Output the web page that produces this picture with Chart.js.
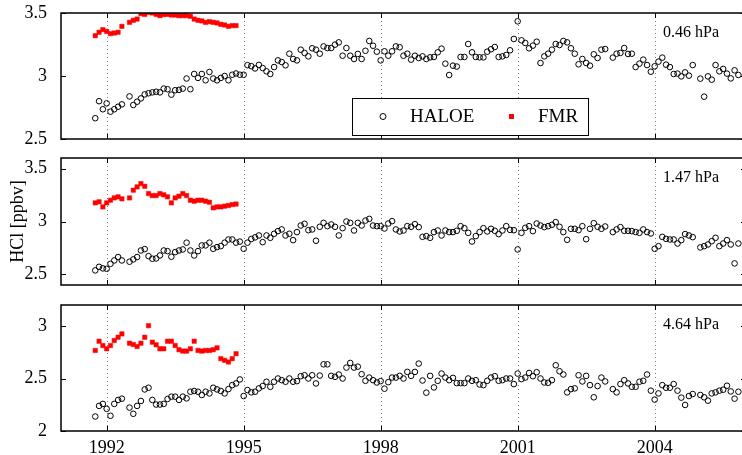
<!DOCTYPE html>
<html>
<head>
<meta charset="utf-8">
<script src="https://cdn.jsdelivr.net/npm/chart.js@4.4.0/dist/chart.umd.min.js"></script>
<style>
  html, body { margin: 0; padding: 0; background: #fff; overflow: hidden; }
  body { width: 742px; height: 455px; position: relative; }
  .panel { position: absolute; left: 0; width: 760px; }
</style>
</head>
<body>
<div class="panel" style="top:0;height:148px"><canvas id="p1"></canvas></div>
<div class="panel" style="top:148px;height:147px"><canvas id="p2"></canvas></div>
<div class="panel" style="top:295px;height:160px"><canvas id="p3"></canvas></div>
<script>
// monthly samples, first one is Oct 1991
const startYear = 1991.75
const yearTicks = [1992, 1995, 1998, 2001, 2004]

const haloe046 = [
  2.665, 2.80, 2.736, 2.783, 2.717, 2.736, 2.756, 2.775, null,
  2.838, 2.77, 2.796, 2.822, 2.854, 2.863, 2.87, 2.875, 2.87, 2.90, 2.895, 2.852, 2.887, 2.89, 2.90,
  2.98, 2.895, 3.016, 2.985, 3.016, 2.966, 3.032, 2.98, 2.966, 2.985, 3.00, 2.966, 3.01, 3.02, 3.01, 3.01,
  3.086, 3.078, 3.06, 3.088, 3.063, 3.037, 3.016, 3.071, 3.124, 3.111, 3.085, 3.177, 3.135, 3.124, 3.209,
  3.183, 3.156, 3.22, 3.209, 3.177, 3.235, 3.222, 3.222, 3.249, 3.267, 3.161, 3.222, 3.161, 3.135, 3.175,
  3.135, 3.20, 3.278, 3.24, 3.193, 3.124, 3.196, 3.161, 3.196, 3.235, 3.228, 3.161, 3.177, 3.13, 3.161,
  3.143, 3.156, 3.135, 3.148, 3.151, 3.188, 3.217, 3.098, 3.008, 3.082, 3.075, 3.151, 3.151, 3.254, 3.188,
  3.151, 3.148, 3.148, 3.193, 3.212, 3.23, 3.151, 3.156, 3.167, 3.204, 3.294, 3.434, 3.283, 3.262, 3.22,
  3.241, 3.272, 3.103, 3.156, 3.177, 3.209, 3.254, 3.246, 3.278, 3.267, 3.22, 3.177, 3.093, 3.135, 3.103,
  3.082, 3.172, 3.143, 3.209, 3.214, null, 3.146, 3.177, 3.183, 3.222, 3.175, 3.177, 3.071, 3.098, 3.13,
  3.087, 3.034, 3.077, 3.114, 3.146, 3.09, 3.071, 3.016, 3.019, 2.997, 3.029, 3.003, 3.087, null, 2.979,
  2.836, 2.997, 2.971, 3.087, 3.037, 3.056, 3.019, 2.981, 3.045, 3.008
]
const fmr046 = [
  3.32, 3.347, 3.368, 3.354, 3.336, 3.341, 3.347, 3.394, null,
  3.426, 3.442, 3.452, 3.495, 3.489, 3.505, 3.5, 3.489, 3.479, 3.487, 3.489, 3.484, 3.484, 3.479, 3.479,
  3.479, 3.474, 3.452, 3.442, 3.437, 3.426, 3.431, 3.426, 3.421, 3.41, 3.405, 3.394, 3.40, 3.40
]

const haloe147 = [
  2.538, 2.572, 2.557, 2.553, 2.60, 2.632, 2.664, 2.632, null,
  2.62, 2.642, 2.664, 2.726, 2.739, 2.673, 2.648, 2.651, 2.679, 2.726, 2.72, 2.667, 2.711, 2.726, 2.736,
  2.80, 2.726, 2.679, 2.72, 2.774, 2.774, 2.80, 2.742, 2.758, 2.767, 2.80, 2.83, 2.83, 2.80, 2.81, 2.742,
  2.80, 2.835, 2.85, 2.868, 2.805, 2.868, 2.846, 2.884, 2.909, 2.925, 2.868, 2.884, 2.824, 2.90, 2.962,
  2.978, 2.918, 2.925, 2.818, 2.95, 2.987, 2.956, 2.972, 2.95, 2.868, 2.937, 3.0, 2.987, 2.915, 2.987,
  2.962, 3.009, 3.025, 2.962, 2.956, 2.956, 2.934, 2.981, 3.003, 2.925, 2.906, 2.915, 2.956, 2.95, 2.975,
  2.947, 2.855, 2.862, 2.846, 2.90, 2.915, 2.868, 2.915, 2.90, 2.90, 2.912, 2.956, 2.937, 2.893, 2.811,
  2.862, 2.90, 2.937, 2.906, 2.931, 2.912, 2.881, 2.915, 2.956, 2.921, 2.918, 2.736, 2.893, 2.94, 2.956,
  2.909, 2.981, 2.962, 2.947, 2.956, 2.969, 2.994, 2.95, 2.90, 2.827, 2.931, 2.931, 2.918, 2.956, 2.833,
  2.931, 2.984, 2.95, 2.931, 2.953, null, 2.90, 2.925, 2.947, 2.912, 2.912, 2.909, 2.90, 2.893, 2.925,
  2.90, 2.887, 2.742, 2.767, 2.855, 2.836, 2.83, 2.83, 2.792, 2.824, 2.881, 2.868, 2.852, null, 2.755,
  2.767, 2.783, 2.814, 2.846, 2.767, 2.792, 2.824, 2.783, 2.604, 2.792
]
const fmr147 = [
  3.176, 3.186, 3.138, 3.176, 3.201, 3.223, 3.233, 3.214, null,
  3.223, 3.296, 3.327, 3.358, 3.333, 3.264, 3.245, 3.245, 3.264, 3.252, 3.233, 3.176, 3.223, 3.239, 3.264,
  3.245, 3.201, 3.192, 3.201, 3.201, 3.192, 3.182, 3.129, 3.138, 3.138, 3.145, 3.151, 3.16, 3.165
]

const haloe464 = [
  2.138, 2.239, 2.258, 2.211, 2.145, 2.258, 2.296, 2.308, null,
  2.223, 2.164, 2.239, 2.286, 2.396, 2.412, 2.296, 2.252, 2.252, 2.258, 2.305, 2.327, 2.327, 2.296, 2.327,
  2.311, 2.374, 2.381, 2.374, 2.343, 2.374, 2.358, 2.412, 2.396, 2.381, 2.358, 2.399, 2.437, 2.453, 2.491,
  2.333, 2.39, 2.368, 2.374, 2.406, 2.428, 2.469, 2.421, 2.469, 2.50, 2.484, 2.469, 2.50, 2.469, 2.475,
  2.522, 2.531, 2.50, 2.531, 2.453, 2.528, 2.635, 2.635, 2.525, 2.516, 2.538, 2.50, 2.604, 2.648, 2.604,
  2.613, 2.541, 2.478, 2.509, 2.484, 2.462, 2.475, 2.403, 2.465, 2.509, 2.509, 2.525, 2.50, 2.563, 2.525,
  2.563, 2.642, 2.481, 2.365, 2.525, 2.415, 2.478, 2.547, 2.509, 2.484, 2.506, 2.456, 2.456, 2.456, 2.50,
  2.478, 2.484, 2.443, 2.437, 2.478, 2.509, 2.522, 2.478, 2.484, 2.50, 2.50, 2.447, 2.547, 2.494, 2.509,
  2.553, 2.522, 2.56, 2.50, 2.462, 2.459, 2.484, 2.626, 2.569, 2.538, 2.368, 2.399, 2.406, 2.531, 2.472,
  2.525, 2.437, 2.321, 2.428, 2.509, 2.472, null, 2.399, 2.368, 2.447, 2.484, 2.453, 2.421, 2.421, 2.469,
  2.478, 2.538, 2.384, 2.299, 2.358, 2.437, 2.412, 2.412, 2.447, 2.384, 2.318, 2.248, 2.333, 2.352, null,
  2.343, 2.321, 2.289, 2.358, 2.368, 2.384, 2.393, 2.431, 2.377, 2.308, 2.374
]
const fmr464 = [
  2.767, 2.855, 2.814, 2.783, 2.814, 2.862, 2.893, 2.925, null,
  2.836, 2.824, 2.805, 2.836, 2.893, 3.003, 2.846, 2.821, 2.783, 2.783, 2.855, 2.855, 2.814, 2.774, 2.761,
  2.761, 2.783, 2.855, 2.767, 2.761, 2.767, 2.767, 2.774, 2.792, 2.689, 2.673, 2.657, 2.689, 2.736
]

Chart.defaults.font.family = "'Liberation Serif', 'Times New Roman', serif"
Chart.defaults.color = '#000'
Chart.defaults.animation = false

function toPoints(vals) {
  return vals
    .map((v, i) => ({ x: startYear + i / 12, y: v }))
    .filter(p => p.y !== null)
}

// dotted year lines, box, inward ticks, pressure label and optional legend
const frame = {
  id: 'frame',
  beforeDatasetsDraw(chart) {
    const { ctx, chartArea: a, scales: { x } } = chart
    ctx.save()
    ctx.strokeStyle = '#7a7a7a'
    ctx.lineWidth = 1
    ctx.setLineDash([1, 3])
    x.ticks.forEach(t => {
      const px = Math.round(x.getPixelForValue(t.value)) + 0.5
      ctx.beginPath()
      ctx.moveTo(px, a.top)
      ctx.lineTo(px, a.bottom)
      ctx.stroke()
    })
    ctx.restore()
  },
  afterDatasetsDraw(chart, args, opts) {
    const { ctx, chartArea: a, scales: { x, y } } = chart
    const tl = 5
    ctx.save()
    ctx.strokeStyle = '#000'
    ctx.lineWidth = 1
    ctx.beginPath()
    x.ticks.forEach(t => {
      const px = Math.round(x.getPixelForValue(t.value)) + 0.5
      ctx.moveTo(px, a.top); ctx.lineTo(px, a.top + tl)
      ctx.moveTo(px, a.bottom); ctx.lineTo(px, a.bottom - tl)
    })
    y.ticks.forEach(t => {
      const py = Math.round(y.getPixelForValue(t.value)) + 0.5
      ctx.moveTo(a.left, py); ctx.lineTo(a.left + tl, py)
      ctx.moveTo(a.right, py); ctx.lineTo(a.right - tl, py)
    })
    ctx.stroke()
    ctx.lineWidth = 1.5
    ctx.strokeRect(a.left, a.top, a.width, a.height)

    ctx.font = "16px 'Liberation Serif'"
    ctx.fillStyle = '#000'
    ctx.textBaseline = 'middle'
    ctx.textAlign = 'left'
    ctx.fillText(opts.label, a.right - 83, a.top + 20)

    if (opts.legend) {
      const L = opts.legend
      ctx.fillStyle = '#fff'
      ctx.fillRect(L.x, L.y, L.w, L.h)
      ctx.lineWidth = 1
      ctx.strokeRect(L.x + 0.5, L.y + 0.5, L.w, L.h)
      const cy = L.y + L.h / 2
      const [h, f] = chart.data.datasets
      ctx.beginPath()
      ctx.arc(L.x + 31, cy, 3, 0, Math.PI * 2)
      ctx.strokeStyle = h.borderColor
      ctx.stroke()
      ctx.fillStyle = f.backgroundColor
      ctx.fillRect(L.x + 157, cy - 2.5, 5, 5)
      ctx.fillStyle = '#000'
      ctx.font = "19px 'Liberation Serif'"
      ctx.fillText(h.label, L.x + 58, cy + 1)
      ctx.fillText(f.label, L.x + 186, cy + 1)
    }
    ctx.restore()
  }
}

function makePanel(id, haloe, fmr, yMin, yMax, yTicks, label, extra) {
  const showYears = !!extra.showYears
  return new Chart(document.getElementById(id), {
    type: 'scatter',
    data: {
      datasets: [{
        label: 'HALOE',
        data: toPoints(haloe),
        pointStyle: 'circle',
        pointRadius: 2.8,
        borderWidth: 1,
        borderColor: '#000',
        backgroundColor: 'rgba(0,0,0,0)'
      }, {
        label: 'FMR',
        data: toPoints(fmr),
        pointStyle: 'rect',
        pointRadius: 3.1,
        borderWidth: 0.5,
        borderColor: '#ff0000',
        backgroundColor: '#ff0000'
      }]
    },
    options: {
      responsive: true,
      maintainAspectRatio: false,
      events: [],
      layout: { padding: extra.padding },
      plugins: {
        legend: { display: false },
        tooltip: { enabled: false },
        frame: { label: label, legend: extra.legend }
      },
      scales: {
        x: {
          type: 'linear',
          min: 1991,
          max: 2006,
          afterBuildTicks: s => { s.ticks = yearTicks.map(v => ({ value: v })) },
          afterFit: s => {
            s.height = showYears ? 24 : 0
            s.paddingLeft = 0
            s.paddingRight = 0
          },
          grid: { display: false },
          border: { display: false },
          ticks: {
            display: showYears,
            padding: -2,
            font: { size: 18 },
            maxRotation: 0,
            callback: v => String(v)
          }
        },
        y: {
          min: yMin,
          max: yMax,
          afterBuildTicks: s => { s.ticks = yTicks.map(v => ({ value: v })) },
          afterFit: s => {
            s.width = 61
            s.paddingTop = 0
            s.paddingBottom = 0
          },
          grid: { display: false },
          border: { display: false },
          ticks: { padding: 6, font: { size: 18 }, callback: v => String(v) },
          title: {
            display: !!extra.yTitle,
            text: extra.yTitle || '',
            font: { size: 18 },
            padding: { top: 7, bottom: 0 }
          }
        }
      }
    },
    plugins: [frame]
  })
}

makePanel('p1', haloe046, fmr046, 2.5, 3.5, [2.5, 3, 3.5], '0.46 hPa', {
  padding: { top: 13, bottom: 9, left: 0, right: 14 },
  legend: { x: 352, y: 98, w: 236, h: 37 }
})
makePanel('p2', haloe147, fmr147, 2.4, 3.6, [2.5, 3, 3.5], '1.47 hPa', {
  padding: { top: 10, bottom: 10, left: 0, right: 14 },
  yTitle: 'HCl [ppbv]'
})
makePanel('p3', haloe464, fmr464, 2.0, 3.2, [2, 2.5, 3], '4.64 hPa', {
  padding: { top: 10, bottom: 0, left: 0, right: 14 },
  showYears: true
})
</script>
</body>
</html>
